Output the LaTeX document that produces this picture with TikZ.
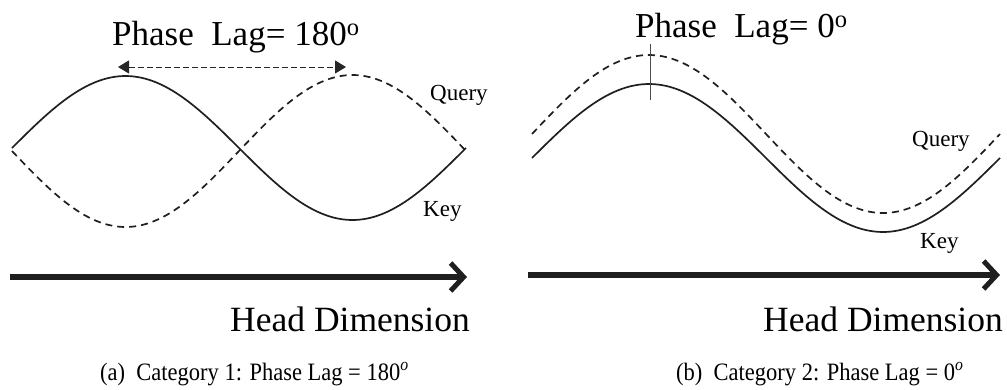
\documentclass[tikz,border=0pt]{standalone}
\usepackage{fontspec}
\setmainfont{Liberation Serif}
\usetikzlibrary{arrows.meta}
\tikzset{
  curve/.style={line width=1.7pt, black!88, line join=round},
  qcurve/.style={curve, dash pattern=on 7pt off 5pt},
  axisarrow/.style={line width=5.5pt, black!88, -{Straight Barb[length=13pt,width=28pt,line width=5pt]}},
  lagarrow/.style={line width=1pt, black!85, dash pattern=on 6pt off 3pt, {Triangle[length=11pt,width=13pt]}-{Triangle[length=11pt,width=13pt]}},
  titletxt/.style={font=\fontsize{35}{40}\selectfont, inner sep=0pt, anchor=base west},
  lbl/.style={font=\fontsize{23}{27}\selectfont, inner sep=0pt, anchor=base west},
  axlbl/.style={font=\fontsize{35.5}{40}\selectfont, inner sep=0pt, anchor=base east},
  captxt/.style={font=\fontsize{25}{29}\selectfont, inner sep=0pt, anchor=base west, xscale=0.9},
}
\begin{document}
\begin{tikzpicture}[x=1pt,y=-1pt]
\useasboundingbox (0,0) rectangle (1007,389);
% ---------- panel (a) ----------
\node[titletxt] (ta) at (112,45) {Phase\ \ Lag= 180\textsuperscript{o}};
\coordinate (la) at (118,67);
\coordinate (lb) at (346,67);
\draw[lagarrow] (la) -- (lb);
\draw[curve] plot[domain=12:466, samples=120, smooth] (\x, {148 - 72*sin(0.792952*(\x-12))});
\draw[qcurve] plot[domain=12:466, samples=120, smooth] (\x, {151 + 76*sin(0.792952*(\x-12))});
\node[lbl] (qa) at (430,100) {Query};
\node[lbl] (ka) at (423,216) {Key};
\coordinate (aa) at (10,277);
\coordinate (ab) at (467,277);
\draw[axisarrow] (aa) -- (ab);
\node[axlbl] (ha) at (470,331) {Head Dimension};
\node[captxt] (ca) at (100,380) {(a)\ \ Category 1: Phase Lag = 180\textsuperscript{\itshape o}};
% ---------- panel (b) ----------
\node[titletxt] (tb) at (635,37) {Phase\ \ Lag= 0\textsuperscript{o}};
\draw[qcurve] plot[domain=532:1000, samples=120, smooth] (\x, {134 - 79*sin(0.769231*(\x-532))});
\draw[curve] plot[domain=532:1000, samples=120, smooth] (\x, {158 - 74*sin(0.769231*(\x-532))});
\coordinate (va) at (650,44);
\coordinate (vb) at (650,100);
\draw[line width=1pt, black!70] (va) -- (vb);
\node[lbl] (qb) at (912,146) {Query};
\node[lbl] (kb) at (920,248) {Key};
\coordinate (ba) at (528,275);
\coordinate (bb) at (1000,275);
\draw[axisarrow] (ba) -- (bb);
\node[axlbl] (hb) at (1003,331) {Head Dimension};
\node[captxt] (cb) at (676,380) {(b)\ \ Category 2: Phase Lag = 0\textsuperscript{\itshape o}};
\end{tikzpicture}
\end{document}
